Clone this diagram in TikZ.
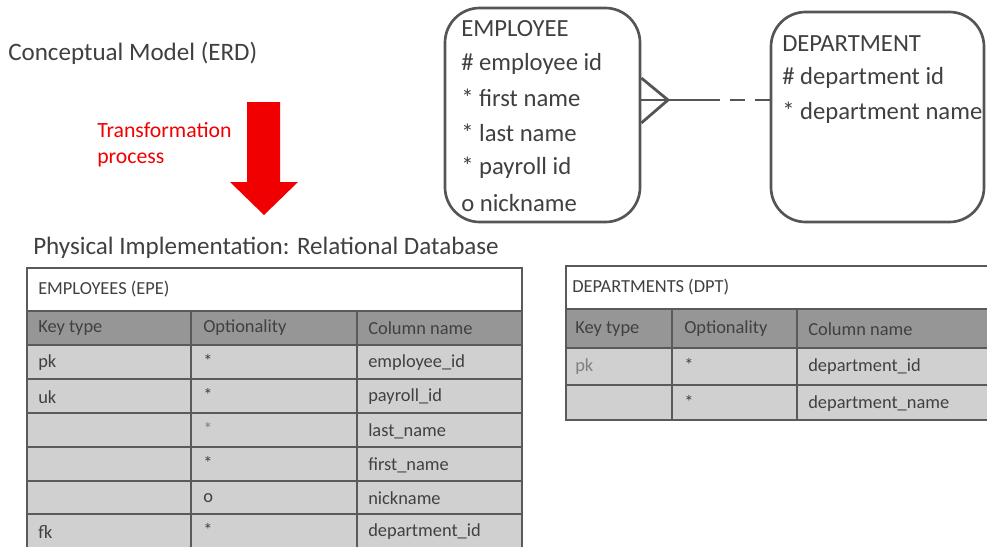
\documentclass[tikz,border=0pt]{standalone}
\usepackage{fontspec}
\setmainfont{Carlito}
\definecolor{txt}{RGB}{64,64,64}
\definecolor{ebord}{RGB}{85,85,85}
\definecolor{hdr}{RGB}{150,150,150}
\definecolor{rowc}{RGB}{208,208,208}
\definecolor{grid}{RGB}{90,90,90}
\definecolor{arrred}{RGB}{240,0,0}
\begin{document}
\begin{tikzpicture}[x=0.75pt,y=-0.75pt]
\useasboundingbox (0,0) rectangle (987,547);
\tikzset{
  lbl/.style={anchor=west, inner sep=0pt, text=txt},
  big/.style={lbl, font=\fontsize{18.8pt}{20pt}\selectfont},
  ent/.style={lbl, font=\fontsize{18.5pt}{20pt}\selectfont},
  cell/.style={lbl, font=\fontsize{13.8pt}{15pt}\selectfont},
  ttl/.style={lbl, font=\fontsize{13.8pt}{15pt}\selectfont},
  entbox/.style={draw=ebord, line width=2pt, rounded corners=26pt, inner sep=0pt},
  rel/.style={draw=ebord, line width=2.1pt},
  tline/.style={draw=grid, line width=1.2pt},
  touter/.style={draw=grid, line width=1.6pt}
}
% headings
\node[big] (concept) at (8,53) {Conceptual Model (ERD)};
\node[big] (phys) at (33,248) {Physical Implementation: Relational Database};
\node[lbl, text=arrred, font=\fontsize{16.3pt}{18pt}\selectfont] (tr1) at (97,130) {Transformation};
\node[lbl, text=arrred, font=\fontsize{16.3pt}{18pt}\selectfont] (tr2) at (97,160) {process};
% red arrow
\fill[arrred] (247,102) -- (280,102) -- (280,182) -- (298,182) -- (264,215) -- (230,182) -- (247,182) -- cycle;

% entities
\node[entbox, minimum width=146.25pt, minimum height=160.5pt] (emp) at (542.5,115) {};
\node[entbox, minimum width=159.75pt, minimum height=157.5pt] (dept) at (877.5,117) {};
\node[ent] (e0) at (461,29) {EMPLOYEE};
\node[ent] (e1) at (461,64) {\# employee id};
\node[ent] (e2) at (461,98) {* first name};
\node[ent] (e3) at (461,133) {* last name};
\node[ent] (e4) at (461,168) {* payroll id};
\node[ent] (e5) at (461,203) {o nickname};
\node[ent] (d0) at (782,44) {DEPARTMENT};
\node[ent] (d1) at (782,78) {\# department id};
\node[ent] (d2) at (782,113) {* department name};

% relationship
\coordinate (rA) at (emp.east |- 0,100);
\coordinate (rT) at (emp.east |- 0,78);
\coordinate (rB) at (emp.east |- 0,123);
\coordinate (rJ) at (668,100);
\coordinate (rM) at (720,100);
\coordinate (rD) at (dept.west |- 0,100);
\draw[rel] (rT) -- (rJ) -- (rB);
\draw[rel] (rA) -- (rM);
\draw[rel, dash pattern=on 11.25pt off 7.5pt, dash phase=11.25pt] (rM) -- (rD);

% EMPLOYEES table
\fill[white] (27,268) rectangle (522,311);
\fill[hdr] (27,311) rectangle (522,345);
\fill[rowc] (27,345) rectangle (522,547);
\draw[touter] (27,268) rectangle (522,311);
\foreach \y in {345,379,413,447,481,514} \draw[tline] (27,\y) -- (522,\y);
\draw[tline] (27,311) -- (27,547);
\draw[tline] (522,311) -- (522,547);
\draw[tline] (191,311) -- (191,547);
\draw[tline] (357,311) -- (357,547);
\node[ttl] (et) at (38,289) {EMPLOYEES (EPE)};
\node[cell] (eh1) at (38,328) {Key type};
\node[cell] (eh2) at (203,328) {Optionality};
\node[cell] (eh3) at (368,328) {Column name};
\node[cell] (ea1) at (38,363) {pk};
\node[cell] (eb1) at (203,361) {*};
\node[cell] (ec1) at (368,363) {employee\_id};
\node[cell] (ea2) at (38,397) {uk};
\node[cell] (eb2) at (203,395) {*};
\node[cell] (ec2) at (368,397) {payroll\_id};
\node[cell, text=gray] (eb3) at (203,429) {*};
\node[cell] (ec3) at (368,431) {last\_name};
\node[cell] (eb4) at (203,463) {*};
\node[cell] (ec4) at (368,465) {first\_name};
\node[cell] (eb5) at (203,498) {o};
\node[cell] (ec5) at (368,498) {nickname};
\node[cell] (ea6) at (38,532) {fk};
\node[cell] (eb6) at (203,530) {*};
\node[cell] (ec6) at (368,532) {department\_id};

% DEPARTMENTS table
\fill[white] (566,266) rectangle (990,309);
\fill[hdr] (566,309) rectangle (990,348);
\fill[rowc] (566,348) rectangle (990,420);
\draw[touter] (566,266) rectangle (990,309);
\draw[touter] (566,309) rectangle (990,420);
\draw[tline] (566,348) -- (990,348);
\draw[tline] (566,385) -- (990,385);
\draw[tline] (672,309) -- (672,420);
\draw[tline] (797,309) -- (797,420);
\node[ttl] (dt) at (572,287) {DEPARTMENTS (DPT)};
\node[cell] (dh1) at (575,329) {Key type};
\node[cell] (dh2) at (684,329) {Optionality};
\node[cell] (dh3) at (808,329) {Column name};
\node[cell, text=gray] (da1) at (575,367) {pk};
\node[cell] (db1) at (684,365) {*};
\node[cell] (dc1) at (808,367) {department\_id};
\node[cell] (db2) at (684,402) {*};
\node[cell] (dc2) at (808,404) {department\_name};
\end{tikzpicture}
\end{document}
